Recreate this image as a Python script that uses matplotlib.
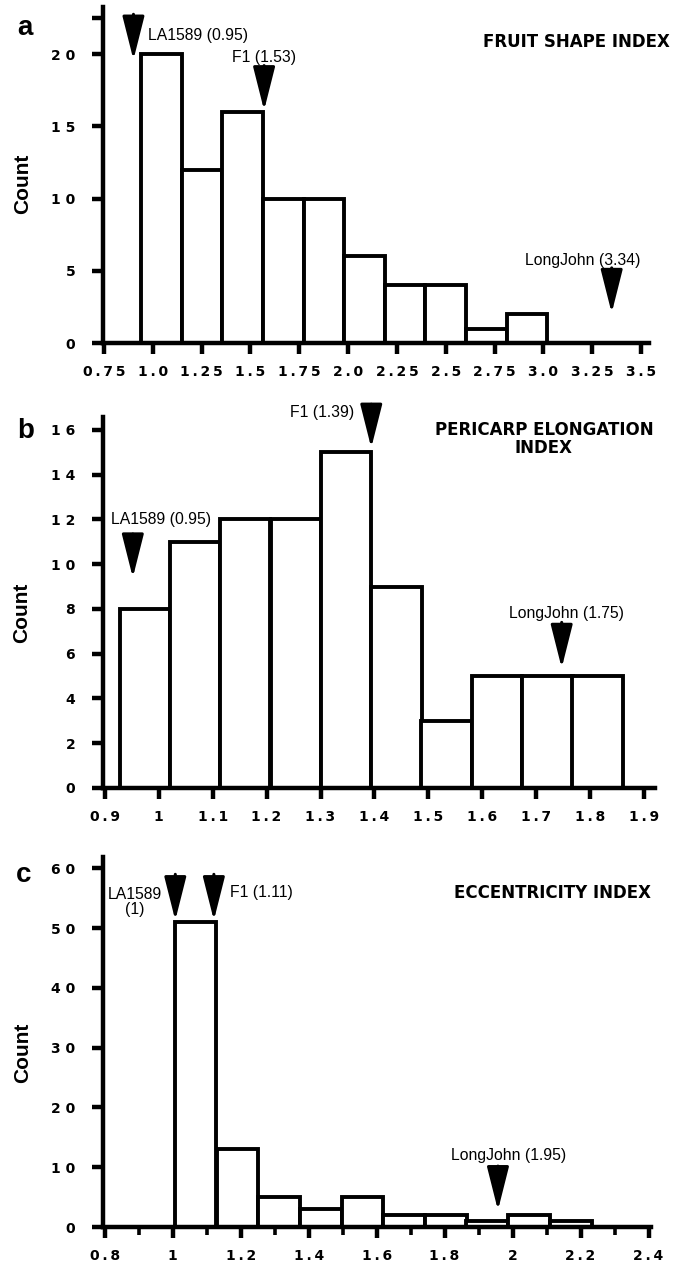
import numpy as np
import matplotlib.pyplot as plt

plt.rcParams['font.family'] = ['Liberation Sans', 'DejaVu Sans']

# ---- data ----
# a: fruit shape index (bins are 0.208 wide, starting at 0.94)
edges_a = [0.94, 1.148, 1.356, 1.564, 1.772, 1.98, 2.188, 2.396, 2.604, 2.812]
width_a = 0.208
counts_a = [20, 12, 16, 10, 10, 6, 4, 4, 1, 2]
ticks_a = [0.75, 1.0, 1.25, 1.5, 1.75, 2.0, 2.25, 2.5, 2.75, 3.0, 3.25, 3.5]
ticklabels_a = ['0.75', '1.0', '1.25', '1.5', '1.75', '2.0', '2.25', '2.5',
                '2.75', '3.0', '3.25', '3.5']
yticks_a = [0, 5, 10, 15, 20, 22.5]
yticklabels_a = ['0', '5', '10', '15', '20', '']

# b: pericarp elongation index
edges_b = [0.928, 1.021, 1.114, 1.208, 1.301, 1.394, 1.487, 1.580, 1.674, 1.767]
width_b = 0.0932
counts_b = [8, 11, 12, 12, 15, 9, 3, 5, 5, 5]
ticks_b = [0.9, 1.0, 1.1, 1.2, 1.3, 1.4, 1.5, 1.6, 1.7, 1.8, 1.9]
ticklabels_b = ['0.9', '1', '1.1', '1.2', '1.3', '1.4', '1.5', '1.6', '1.7',
                '1.8', '1.9']
yticks_b = [0, 2, 4, 6, 8, 10, 12, 14, 16]

# c: eccentricity index
edges_c = [1.006, 1.129, 1.251, 1.374, 1.497, 1.619, 1.742, 1.864, 1.987, 2.110]
width_c = 0.1227
counts_c = [51, 13, 5, 3, 5, 2, 2, 1, 2, 1]
ticks_c = [0.8, 1.0, 1.2, 1.4, 1.6, 1.8, 2.0, 2.2, 2.4]
ticklabels_c = ['0.8', '1', '1.2', '1.4', '1.6', '1.8', '2', '2.2', '2.4']
minor_c = [0.9, 1.1, 1.3, 1.5, 1.7, 1.9, 2.1, 2.3]
yticks_c = [0, 10, 20, 30, 40, 50, 60]

# arrows: (x, y of tip, y of top)
arrows_a = [(0.901, 19.6, 22.75), (1.57, 16.1, 19.2), (3.35, 2.07, 5.2)]
arrows_b = [(0.952, 9.4, 11.35), (1.394, 15.2, 17.15), (1.747, 5.36, 7.4)]
arrows_c = [(1.0075, 51.3, 59.0), (1.121, 51.3, 59.0), (1.957, 2.8, 10.2)]

TICKFONT = dict(family='DejaVu Sans', fontweight='bold', fontsize=10)
NOTE = 11.3
TITLE = dict(family='DejaVu Sans', fontweight='bold', fontsize=12)


def style_axes(ax, xlim, ylim, ticks, labels, yticks, ylabels=None):
    ax.set_xlim(xlim)
    ax.set_ylim(ylim)
    for side in ['top', 'right']:
        ax.spines[side].set_visible(False)
    ax.spines['left'].set_linewidth(3.2)
    ax.spines['bottom'].set_linewidth(3.2)
    ax.spines['bottom'].set_position(('data', 0))
    ax.spines['left'].set_bounds(0, ylim[1])
    ax.set_xticks(ticks)
    ax.set_xticklabels(['\u2009'.join(t) for t in labels], **TICKFONT)
    if ylabels is None:
        ylabels = [str(t) for t in yticks]
    ax.set_yticks(yticks)
    ax.set_yticklabels([' '.join(t) for t in ylabels], **TICKFONT)
    ax.tick_params(axis='both', which='major', length=8, width=3.2, direction='out')
    ax.tick_params(axis='x', pad=8)
    ax.tick_params(axis='y', pad=12)
    ax.set_ylabel('Count', fontweight='bold', fontsize=15)
    ax.yaxis.set_label_coords(-0.13, 0.48)


def draw_arrows(ax, arrows):
    for x, tip, top in arrows:
        ax.annotate('', xy=(x, tip), xytext=(x, top), annotation_clip=False,
                    arrowprops=dict(arrowstyle='-|>,head_length=27,head_width=6.8',
                                    color='black', lw=2.2, shrinkA=0, shrinkB=0,
                                    mutation_scale=1))


fig = plt.figure(figsize=(6.78, 12.64), dpi=100)

ax_a = fig.add_axes([0.1519, 0.7252, 0.8053, 0.2692])
ax_b = fig.add_axes([0.1519, 0.3722, 0.8142, 0.2979])
ax_c = fig.add_axes([0.1519, 0.0245, 0.8083, 0.2975])

bar_kw = dict(align='edge', facecolor='white', edgecolor='black', linewidth=2.8)

# ---- a ----
ax_a.bar(edges_a, counts_a, width=width_a, **bar_kw)
style_axes(ax_a, (0.745, 3.541), (-0.3, 23.25), ticks_a, ticklabels_a,
           yticks_a, yticklabels_a)
draw_arrows(ax_a, arrows_a)
ax_a.text(0.975, 21.3, 'LA1589 (0.95)', fontsize=NOTE, va='center')
ax_a.text(1.567, 19.75, 'F1 (1.53)', fontsize=NOTE, va='center', ha='center')
ax_a.text(3.199, 5.74, 'LongJohn (3.34)', fontsize=NOTE, va='center', ha='center')
ax_a.text(3.649, 20.83, 'FRUIT SHAPE INDEX', ha='right', va='center', **TITLE)
fig.text(0.0369, 0.9778, 'a', fontsize=20, fontweight='bold',
         ha='center', va='center')

# ---- b ----
ax_b.bar(edges_b, counts_b, width=width_b, **bar_kw)
style_axes(ax_b, (0.8967, 1.920), (-0.25, 16.58), ticks_b, ticklabels_b, yticks_b)
draw_arrows(ax_b, arrows_b)
ax_b.text(1.005, 11.98, 'LA1589 (0.95)', fontsize=NOTE, va='center', ha='center')
ax_b.text(1.362, 16.76, 'F1 (1.39)', fontsize=NOTE, va='center', ha='right')
ax_b.text(1.755, 7.8, 'LongJohn (1.75)', fontsize=NOTE, va='center', ha='center')
ax_b.text(1.714, 15.6, 'PERICARP ELONGATION\nINDEX', ha='center', va='center',
          linespacing=1.05, **TITLE)
fig.text(0.0383, 0.6590, 'b', fontsize=20, fontweight='bold',
         ha='center', va='center')

# ---- c ----
ax_c.bar(edges_c, counts_c, width=width_c, **bar_kw)
style_axes(ax_c, (0.7947, 2.4074), (-1.0, 61.9), ticks_c, ticklabels_c, yticks_c)
ax_c.set_xticks(minor_c, minor=True)
ax_c.tick_params(axis='x', which='minor', length=6, width=2.6)
draw_arrows(ax_c, arrows_c)
ax_c.text(0.889, 54.3, 'LA1589\n(1)', fontsize=NOTE, va='center', ha='center',
          linespacing=1.0)
ax_c.text(1.169, 56.0, 'F1 (1.11)', fontsize=NOTE, va='center', ha='left')
ax_c.text(1.989, 12.0, 'LongJohn (1.95)', fontsize=NOTE, va='center', ha='center')
ax_c.text(2.4074, 55.9, 'ECCENTRICITY INDEX', ha='right', va='center', **TITLE)
fig.text(0.0354, 0.3078, 'c', fontsize=20, fontweight='bold',
         ha='center', va='center')

fig.savefig('out.png', dpi=100)
